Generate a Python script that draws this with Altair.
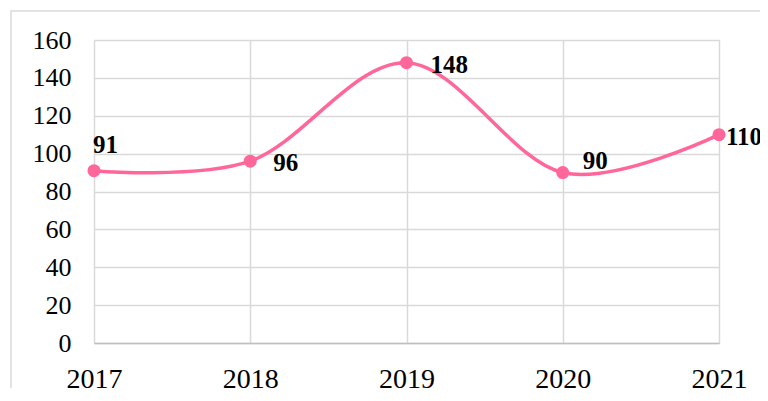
import altair as alt
import pandas as pd

years = ["2017", "2018", "2019", "2020", "2021"]
values = [91, 96, 148, 90, 110]

df = pd.DataFrame({"year": years, "value": values})

PINK = "#FF6699"
FONT = "Liberation Serif"

# label offsets (styling only)
label_offsets = {
    "2017": (-1, -18),
    "2018": (23, 10),
    "2019": (24, 10),
    "2020": (20, -4),
    "2021": (7, 10),
}

x_enc = alt.X("year:O", title=None,
              scale=alt.Scale(padding=0),
              axis=alt.Axis(labelAngle=0, labelFont=FONT, labelFontSize=28,
                            labelColor="#000000", labelPadding=44,
                            labelBaseline="alphabetic", ticks=False,
                            domain=True, domainColor="#bfbfbf", domainWidth=1.5,
                            grid=True, gridColor="#d9d9d9", gridWidth=1.5))
y_enc = alt.Y("value:Q", title=None,
              scale=alt.Scale(domain=[0, 160], nice=False),
              axis=alt.Axis(values=[0, 20, 40, 60, 80, 100, 120, 140, 160],
                            labelFont=FONT,
                            labelFontSize=26, labelColor="#000000", labelPadding=23,
                            labelOverlap=False, labelFlush=False,
                            ticks=False, domain=False, grid=True,
                            gridColor="#d9d9d9", gridWidth=1.5))

base = alt.Chart(df).encode(x=x_enc, y=y_enc)

frame = alt.Chart(df).mark_rect(fill=None, stroke="#d9d9d9", strokeWidth=1.5).encode(
    x=alt.value(-83), x2=alt.value(700), y=alt.value(-29), y2=alt.value(420)
).transform_filter(alt.datum.year == "2017")

line = base.mark_line(color=PINK, strokeWidth=3.5, interpolate="cardinal", tension=0)
points = base.mark_circle(color=PINK, size=170, opacity=1)

labels = []
for yr, (dx, dy) in label_offsets.items():
    labels.append(
        base.transform_filter(alt.datum.year == yr)
        .mark_text(font=FONT, fontSize=25, fontWeight="bold", color="#000000",
                   align="left", baseline="alphabetic", dx=dx, dy=dy)
        .encode(text="value:Q")
    )

chart = alt.layer(line, points, *labels, frame).properties(
    width=625, height=303,
    autosize=alt.AutoSizeParams(type="none"),
    padding={"left": 86, "top": 32, "right": 41, "bottom": 45},
).configure_view(stroke=None).configure(background="#ffffff")

chart.save("out.html", embed_options={"renderer": "svg", "actions": False})
